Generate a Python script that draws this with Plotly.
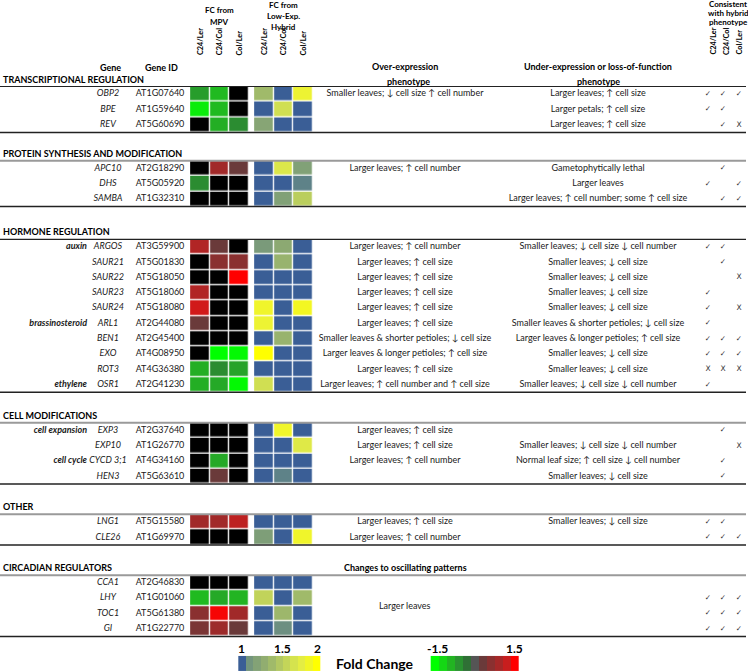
import plotly.graph_objects as go

# ---------------- data ----------------
sections = ["TRANSCRIPTIONAL REGULATION", "PROTEIN SYNTHESIS AND MODIFICATION",
            "HORMONE REGULATION", "CELL MODIFICATIONS", "OTHER", "CIRCADIAN REGULATORS"]
section_sizes = [3, 3, 10, 4, 2, 4]

genes = ["OBP2", "BPE", "REV", "APC10", "DHS", "SAMBA", "ARGOS", "SAUR21", "SAUR22",
         "SAUR23", "SAUR24", "ARL1", "BEN1", "EXO", "ROT3", "OSR1", "EXP3", "EXP10",
         "CYCD 3;1", "HEN3", "LNG1", "CLE26", "CCA1", "LHY", "TOC1", "GI"]
gene_ids = ["AT1G07640", "AT1G59640", "AT5G60690", "AT2G18290", "AT5G05920", "AT1G32310",
            "AT3G59900", "AT5G01830", "AT5G18050", "AT5G18060", "AT5G18080", "AT2G44080",
            "AT2G45400", "AT4G08950", "AT4G36380", "AT2G41230", "AT2G37640", "AT1G26770",
            "AT4G34160", "AT5G63610", "AT5G15580", "AT1G69970", "AT2G46830", "AT1G01060",
            "AT5G61380", "AT1G22770"]
groups = ["", "", "", "", "", "", "auxin", "", "", "", "", "brassinosteroid", "", "", "",
          "ethylene", "cell expansion", "", "cell cycle", "", "", "", "", "", "", ""]

# fold change from mid-parent value (None = not significant, shown black)
mpv_c24_ler = [-0.7, -1.35, None, None, -0.55, None, 1.0, None, None, 1.0, 1.25, 0.3, None,
               None, -0.85, -0.85, None, None, None, None, 0.85, None, None, -0.95, 0.6, 0.45]
mpv_c24_col = [-0.95, -0.95, -0.85, 0.85, None, None, 0.3, 0.6, None, None, None, None, None,
               -1.5, -0.55, -0.8, None, None, -0.8, 0.3, 0.85, None, None, -0.8, 1.45, 0.8]
mpv_col_ler = [None, None, -0.55, 0.3, None, None, None, 0.6, 1.5, None, None, None, None,
               -1.45, -0.75, -1.45, None, None, None, None, 1.1, None, None, -0.9, 0.85, 0.3]

# fold change from low-expressing parent / hybrid
hyb_c24_ler = [1.5, 1.0, 1.35, 1.0, 1.0, 1.0, 1.28, 1.0, 1.0, 1.0, 1.9, 1.88, 1.0, 2.0, 1.0,
               1.72, 1.0, 1.0, 1.0, 1.0, 1.0, 1.3, 1.0, 1.65, 1.0, 1.0]
hyb_c24_col = [1.0, 1.72, 1.0, 1.78, 1.0, 1.32, 1.38, 1.45, 1.0, 1.0, 1.0, 1.0, 1.45, 1.0, 1.0,
               1.0, 1.9, 1.0, 1.0, 1.15, 1.0, 1.0, 1.0, 1.0, 1.48, 1.22]
hyb_col_ler = [1.88, 1.0, 1.0, 1.32, 1.15, 1.62, 1.0, 1.0, 1.0, 1.0, 1.92, 1.0, 1.0, 1.0, 1.0,
               1.0, 1.0, 1.8, 1.0, 1.0, 1.0, 1.9, 1.0, 1.5, 1.0, 1.0]

cell_size_up = "Larger leaves; \u2191 cell size"
small_down = "Smaller leaves; \u2193 cell size"
over_expression = [
    "Smaller leaves; \u2193 cell size \u2191 cell number", "", "",
    "Larger leaves; \u2191 cell number", "", "",
    "Larger leaves; \u2191 cell number", cell_size_up, cell_size_up, cell_size_up, cell_size_up,
    cell_size_up, "Smaller leaves & shorter petioles; \u2193 cell size",
    "Larger leaves & longer petioles; \u2191 cell size", cell_size_up,
    "Larger leaves; \u2191 cell number and \u2191 cell size",
    cell_size_up, cell_size_up, "Larger leaves; \u2191 cell number", "",
    cell_size_up, "Larger leaves; \u2191 cell number",
    "", "", "", ""]
under_expression = [
    "Larger leaves; \u2191 cell size", "Larger petals; \u2191 cell size", "Larger leaves; \u2191 cell size",
    "Gametophytically lethal", "Larger leaves",
    "Larger leaves; \u2191 cell number; some \u2191 cell size",
    "Smaller leaves; \u2193 cell size \u2193 cell number", small_down, small_down, small_down,
    small_down, "Smaller leaves & shorter petioles; \u2193 cell size",
    "Larger leaves & longer petioles; \u2191 cell size", small_down, small_down,
    "Smaller leaves; \u2193 cell size \u2193 cell number",
    "", "Smaller leaves; \u2193 cell size \u2193 cell number",
    "Normal leaf size; \u2191 cell size \u2193 cell number", small_down,
    small_down, "",
    "", "", "", ""]
circadian_header = "Changes to oscillating patterns"
circadian_phenotype = "Larger leaves"

C, X = "\u2713", "X"
cons_c24_ler = [C, C, "", "", C, "", C, "", "", C, C, C, C, C, X, C, "", "", "", "", C, C, "", C, C, C]
cons_c24_col = [C, C, C, C, "", C, C, C, "", "", "", "", C, C, X, "", C, "", C, C, C, C, "", C, C, C]
cons_col_ler = [C, "", X, "", C, C, "", "", X, "", X, "", C, C, X, "", "", X, "", "", "", C, "", C, C, C]

pair_labels = ["C24/Ler", "C24/Col", "Col/Ler"]
hyb_legend_values = [1.0, 1.25, 1.33, 1.41, 1.5, 1.58, 1.66, 1.75, 1.83, 1.91, 2.0]
hyb_legend_ticks = ["1", "1.5", "2"]
mpv_legend_values = [-1.5, -1.2, -0.9, -0.6, -0.3, 0.0, 0.3, 0.6, 0.9, 1.2, 1.5]
mpv_legend_ticks = ["-1.5", "1.5"]

# ---------------- layout constants ----------------
W, H = 748, 672
FONT = "Lato, Carlito, Calibri, 'DejaVu Sans', sans-serif"
TXT = "#1a1a1a"
section_tops = [86.5, 160.7, 239.3, 422.7, 514.3, 575.2]
top_line_col = ["#222222", "#9a9a9a", "#222222", "#9a9a9a", "#9a9a9a", "#9a9a9a"]
top_line_w = [1.0, 2.0, 1.2, 2.0, 2.0, 2.0]
P = 15.3
MPV_X0, HYB_X0, CW = 200.0, 264.0, 19.7
X_GENE, X_ID, X_OVER, X_UNDER = 108, 160, 405, 598
X_CONS = [708, 723, 739]

mpv_scale = [[0.0, "#00ff00"], [0.1, "#14d814"], [0.2, "#22b422"], [0.3, "#2a9230"],
             [0.4, "#2f7035"], [0.5, "#555555"], [0.6, "#6a3a3a"], [0.7, "#8a3030"],
             [0.8, "#a62828"], [0.9, "#c81e1e"], [1.0, "#ff0000"]]
hyb_scale = [[0.0, "#3a5e96"], [0.15, "#5e8288"], [0.3, "#7e9e78"], [0.5, "#a0ba6a"],
             [0.7, "#ccdc55"], [0.85, "#e8f040"], [1.0, "#ffff00"]]
black_scale = [[0, "#000000"], [1, "#000000"]]

fig = go.Figure()
shapes, annotations = [], []

row_y = []
start = 0
for s, n in enumerate(section_sizes):
    top = section_tops[s]
    ys = [top + (j + 0.5) * P for j in range(n)]
    row_y += ys
    idx = list(range(start, start + n))
    zm = [[mpv_c24_ler[i], mpv_c24_col[i], mpv_col_ler[i]] for i in idx]
    zmask = [[1 if v is None else None for v in r] for r in zm]
    zh = [[hyb_c24_ler[i], hyb_c24_col[i], hyb_col_ler[i]] for i in idx]
    common = dict(x0=MPV_X0, dx=CW, y0=ys[0], dy=P, xgap=1.3, ygap=1.3,
                  showscale=False, hoverinfo="skip")
    fig.add_trace(go.Heatmap(z=zm, zmin=-1.5, zmax=1.5, colorscale=mpv_scale, **common))
    fig.add_trace(go.Heatmap(z=zmask, zmin=0, zmax=1, colorscale=black_scale, **common))
    common["x0"] = HYB_X0
    fig.add_trace(go.Heatmap(z=zh, zmin=1, zmax=2, colorscale=hyb_scale, **common))
    # lines
    shapes.append(dict(type="line", x0=0, x1=746, y0=top, y1=top, xref="x", yref="y",
                       line=dict(color=top_line_col[s], width=top_line_w[s])))
    bot = top + n * P
    shapes.append(dict(type="line", x0=0, x1=746, y0=bot, y1=bot, xref="x", yref="y",
                       line=dict(color="#222222", width=1.5)))
    annotations.append(dict(x=1, y=top - 7.5, text="<b>%s</b>" % sections[s], showarrow=False,
                            xanchor="left", yanchor="middle",
                            font=dict(family=FONT, size=9, color="#000")))
    start += n

# circadian merged cells
circ_top = section_tops[5]
annotations.append(dict(x=X_OVER, y=circ_top - 7.5, text="<b>%s</b>" % circadian_header,
                        showarrow=False, xanchor="center", yanchor="middle",
                        font=dict(family=FONT, size=9, color="#000")))
annotations.append(dict(x=X_OVER, y=circ_top + 2 * P, text=circadian_phenotype,
                        showarrow=False, xanchor="center", yanchor="middle",
                        font=dict(family=FONT, size=9, color=TXT)))

def text_trace(x, texts, pos="middle center", size=9, color=TXT, fam=FONT):
    fig.add_trace(go.Scatter(x=[x] * len(texts), y=row_y, text=texts, mode="text",
                             textposition=pos, hoverinfo="skip", showlegend=False,
                             textfont=dict(family=fam, size=size, color=color)))

text_trace(87, ["<b><i>%s</i></b>" % g if g else "" for g in groups], pos="middle left")
text_trace(X_GENE, ["<i>%s</i>" % g for g in genes])
text_trace(X_ID, gene_ids)
text_trace(X_OVER, over_expression)
text_trace(X_UNDER, under_expression)
for xc, col in zip(X_CONS, [cons_c24_ler, cons_c24_col, cons_col_ler]):
    fig.add_trace(go.Scatter(x=[xc] * len(col), y=row_y, text=col, mode="text",
                             hoverinfo="skip", showlegend=False,
                             textfont=dict(family="DejaVu Sans", size=7.5, color="#333")))

# headers
hdr = dict(family=FONT, size=9, color="#000")
hdr_s = dict(family=FONT, size=8, color="#000")
for xx, yy, t, f in [(X_GENE + 2, 67, "Gene", hdr), (X_ID + 1, 67, "Gene ID", hdr),
                     (X_OVER, 66.5, "Over-expression", hdr), (X_OVER + 3, 81, "phenotype", hdr),
                     (X_UNDER, 66.5, "Under-expression or loss-of-function", hdr),
                     (X_UNDER, 81, "phenotype", hdr),
                     (219, 10, "FC from", hdr_s), (219, 21.7, "MPV", hdr_s),
                     (283.5, 4.8, "FC from", hdr_s), (283.5, 15.5, "Low-Exp.", hdr_s),
                     (283.5, 26.5, "Hybrid", hdr_s),
                     (728, 4.3, "Consistent", hdr_s), (728, 13.3, "with hybrid", hdr_s),
                     (728, 22.3, "phenotype", hdr_s)]:
    annotations.append(dict(x=xx, y=yy, text="<b>%s</b>" % t, showarrow=False,
                            xanchor="center", yanchor="middle", font=f))
for k, lab in enumerate(pair_labels):
    for xx, yb in [(MPV_X0 + k * CW, 57.5), (HYB_X0 + k * CW, 57.5), (X_CONS[k] + [5, 3, 0][k], 57)]:
        annotations.append(dict(x=xx, y=yb, text="<b>%s</b>" % lab, textangle=-90, showarrow=False,
                                xanchor="center", yanchor="bottom",
                                font=dict(family=FONT, size=7.3, color="#000")))

# legends
LEG_Y = 663.3
fig.add_trace(go.Heatmap(z=[hyb_legend_values], x0=238.3 + 3.73, dx=7.45, y0=LEG_Y, dy=14.7,
                         zmin=1, zmax=2, colorscale=hyb_scale, showscale=False, hoverinfo="skip"))
fig.add_trace(go.Heatmap(z=[mpv_legend_values], x0=430.7 + 4.0, dx=8.03, y0=LEG_Y, dy=14.7,
                         zmin=-1.5, zmax=1.5, colorscale=mpv_scale, showscale=False, hoverinfo="skip"))
lab = dict(family=FONT, size=12, color="#000")
for xx, t in zip([241, 282.5, 317], hyb_legend_ticks):
    annotations.append(dict(x=xx, y=648.5, text="<b>%s</b>" % t, showarrow=False,
                            xanchor="center", yanchor="middle", font=lab))
for xx, t in zip([437.5, 514], mpv_legend_ticks):
    annotations.append(dict(x=xx, y=648.5, text="<b>%s</b>" % t, showarrow=False,
                            xanchor="center", yanchor="middle", font=lab))
annotations.append(dict(x=375, y=663.5, text="<b>Fold Change</b>", showarrow=False,
                        xanchor="center", yanchor="middle",
                        font=dict(family=FONT, size=14, color="#000")))

fig.update_layout(
    width=W, height=H, margin=dict(l=0, r=0, t=0, b=0),
    paper_bgcolor="white", plot_bgcolor="white", showlegend=False,
    xaxis=dict(range=[0, W], visible=False, fixedrange=True),
    yaxis=dict(range=[H, 0], visible=False, fixedrange=True),
    shapes=shapes, annotations=annotations,
)
fig.write_html("out.html", config={"displayModeBar": False},
               post_script="document.body.style.margin='0';")
